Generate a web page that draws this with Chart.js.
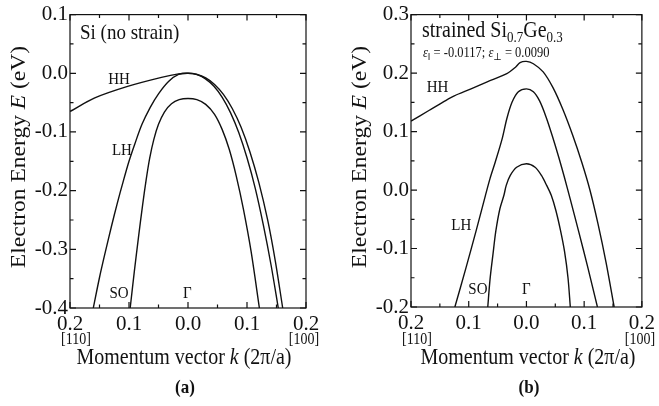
<!DOCTYPE html>
<html>
<head>
<meta charset="utf-8">
<script src="https://cdn.jsdelivr.net/npm/chart.js@4"></script>
<style>
html, body { margin: 0; padding: 0; background: #fff; }
#wrap { position: relative; width: 659px; height: 406px; }
canvas { position: absolute; top: 0; }
</style>
</head>
<body>
<div id="wrap">
<canvas id="chartA" width="330" height="406" style="left:0"></canvas>
<canvas id="chartB" width="329" height="406" style="left:330px"></canvas>
</div>
<script>
// k in units of 2pi/a : negative side = [110], positive side = [100]
// (a) Si, no strain
var hhA_k = [-0.200, -0.158, -0.101, -0.045, -0.016, 0.000, 0.015, 0.030, 0.045, 0.060, 0.075, 0.090, 0.105, 0.120, 0.135, 0.148, 0.1605];
var hhA_E = [-0.065, -0.042, -0.022, -0.007, -0.001, 0.000, -0.002, -0.008, -0.019, -0.036, -0.060, -0.092, -0.134, -0.186, -0.250, -0.320, -0.400];
var lhA_k = [-0.1605, -0.150, -0.140, -0.130, -0.120, -0.110, -0.100, -0.090, -0.078, -0.064, -0.050, -0.033, -0.016, 0.000, 0.015, 0.029, 0.044, 0.058, 0.072, 0.086, 0.100, 0.114, 0.128, 0.141, 0.153];
var lhA_E = [-0.400, -0.348, -0.304, -0.262, -0.222, -0.185, -0.150, -0.120, -0.087, -0.058, -0.035, -0.014, -0.002, 0.000, -0.002, -0.009, -0.022, -0.041, -0.067, -0.101, -0.144, -0.196, -0.260, -0.328, -0.400];
var soA_k = [-0.098, -0.091, -0.084, -0.077, -0.071, -0.065, -0.058, -0.050, -0.040, -0.028, -0.015, 0.000, 0.015, 0.030, 0.045, 0.058, 0.070, 0.082, 0.094, 0.107, 0.121];
var soA_E = [-0.400, -0.338, -0.280, -0.225, -0.182, -0.145, -0.113, -0.087, -0.066, -0.052, -0.045, -0.043, -0.045, -0.053, -0.070, -0.096, -0.130, -0.176, -0.232, -0.304, -0.400];

// (b) strained Si0.7Ge0.3
var hhB_k = [-0.200, -0.169, -0.140, -0.125, -0.096, -0.068, -0.034, -0.019, -0.011, 0.000, 0.012, 0.029, 0.046, 0.063, 0.080, 0.096, 0.110, 0.124, 0.138, 0.152];
var hhB_E = [0.118, 0.136, 0.153, 0.161, 0.173, 0.185, 0.199, 0.210, 0.218, 0.220, 0.216, 0.202, 0.175, 0.138, 0.094, 0.047, 0.000, -0.058, -0.124, -0.200];
var lhB_k = [-0.124, -0.105, -0.087, -0.071, -0.063, -0.054, -0.042, -0.034, -0.025, -0.014, 0.000, 0.012, 0.023, 0.034, 0.045, 0.056, 0.066, 0.076, 0.090, 0.106, 0.123];
var lhB_E = [-0.200, -0.134, -0.069, -0.009, 0.020, 0.048, 0.088, 0.122, 0.150, 0.168, 0.173, 0.168, 0.152, 0.125, 0.092, 0.056, 0.021, -0.016, -0.069, -0.131, -0.200];
var soB_k = [-0.067, -0.063, -0.058, -0.053, -0.046, -0.039, -0.035, -0.028, -0.017, 0.000, 0.015, 0.026, 0.035, 0.043, 0.051, 0.059, 0.066, 0.072, 0.076];
var soB_E = [-0.200, -0.152, -0.110, -0.070, -0.032, -0.009, 0.008, 0.025, 0.039, 0.045, 0.039, 0.025, 0.008, -0.009, -0.035, -0.069, -0.105, -0.150, -0.200];

var kTicks = [-0.2, -0.1, 0.0, 0.1, 0.2];
var eRangeA = [-0.4, 0.1];
var eRangeB = [-0.2, 0.3];

var INK = "#111";
var SERIF = "'Liberation Serif', 'DejaVu Serif', serif";
var STRETCH = 1.12; // the scan is a little taller than wide

function pts(k, e) {
	return k.map(function (v, i) { return { x: v, y: e[i] }; });
}

function band(k, e) {
	return {
		data: pts(k, e),
		borderColor: INK,
		borderWidth: 1.4,
		pointRadius: 0,
		fill: false,
		tension: 0.3
	};
}

// draw a run of text pieces with different fonts, centred on (cx, cy)
function rich(ctx, parts, cx, cy, rot, align) {
	ctx.save();
	ctx.translate(cx, cy);
	if (rot) { ctx.rotate(rot); ctx.scale(STRETCH, 1); }
	else ctx.scale(1, STRETCH);
	ctx.fillStyle = INK;
	ctx.textBaseline = "middle";
	ctx.textAlign = "left";
	var w = 0;
	parts.forEach(function (p) { ctx.font = p[1]; w += ctx.measureText(p[0]).width; });
	var x = align === "left" ? 0 : -w / 2;
	parts.forEach(function (p) {
		ctx.font = p[1];
		ctx.fillText(p[0], x, p[2] || 0);
		x += ctx.measureText(p[0]).width;
	});
	ctx.restore();
}

// frame plus inward major/minor ticks on all four sides
var frameTicks = {
	id: "frameTicks",
	afterDraw: function (chart) {
		var ctx = chart.ctx, a = chart.chartArea, x = chart.scales.x, y = chart.scales.y;
		ctx.save();
		ctx.strokeStyle = INK;
		ctx.lineWidth = 1.2;
		ctx.strokeRect(a.left, a.top, a.right - a.left, a.bottom - a.top);
		ctx.beginPath();
		var i, p, L;
		for (i = 0; i <= 8; i++) {
			p = x.getPixelForValue(x.min + i * 0.05);
			L = i % 2 === 0 ? 6 : 3.5;
			ctx.moveTo(p, a.bottom); ctx.lineTo(p, a.bottom - L);
			ctx.moveTo(p, a.top); ctx.lineTo(p, a.top + L);
		}
		for (i = 0; i <= 10; i++) {
			p = y.getPixelForValue(y.min + i * 0.05);
			L = i % 2 === 0 ? 6 : 3.5;
			ctx.moveTo(a.left, p); ctx.lineTo(a.left + L, p);
			ctx.moveTo(a.right, p); ctx.lineTo(a.right - L, p);
		}
		ctx.stroke();
		ctx.restore();
	}
};

function axisTexts(chart, cxPlot, titleX, panel) {
	var ctx = chart.ctx, a = chart.chartArea;
	var f = "20px " + SERIF, fi = "italic 20px " + SERIF;
	rich(ctx, [["Electron Energy ", "21px " + SERIF], ["E", "italic 21px " + SERIF], [" (eV)", "21px " + SERIF]],
		titleX, 157, -Math.PI / 2);
	rich(ctx, [["Momentum vector ", f], ["k", fi], [" (2\u03c0/a)", f]], cxPlot, 358, 0);
	rich(ctx, [["[110]", "14px " + SERIF]], a.left + 6, 340, 0);
	rich(ctx, [["[100]", "14px " + SERIF]], a.right - 2, 340, 0);
	rich(ctx, [[panel, "bold 17px " + SERIF]], cxPlot + 1, 388, 0);
}

function bandLabel(chart, txt, k, e) {
	var x = chart.scales.x.getPixelForValue(k), y = chart.scales.y.getPixelForValue(e);
	rich(chart.ctx, [[txt, "15px " + SERIF]], x, y, 0);
}

var notesA = {
	id: "notesA",
	afterDraw: function (chart) {
		axisTexts(chart, 184, 19, "(a)");
		rich(chart.ctx, [["Si (no strain)", "19px " + SERIF]], 80, 33, 0, "left");
		bandLabel(chart, "HH", -0.117, -0.011);
		bandLabel(chart, "LH", -0.112, -0.132);
		bandLabel(chart, "SO", -0.117, -0.376);
		bandLabel(chart, "\u0393", -0.001, -0.375);
	}
};

var notesB = {
	id: "notesB",
	afterDraw: function (chart) {
		axisTexts(chart, 198, 30, "(b)");
		var big = "20px " + SERIF, sub = "13px " + SERIF;
		rich(chart.ctx, [["strained Si", big], ["0.7", sub, 6], ["Ge", big], ["0.3", sub, 6]], 92, 31, 0, "left");
		var s = "12.5px " + SERIF, si = "italic 12.5px " + SERIF, ss = "9px " + SERIF;
		rich(chart.ctx, [["\u03b5", si], ["\u2016", ss, 4], [" = -0.0117; ", s], ["\u03b5", si], ["\u22a5", ss, 4], [" = 0.0090", s]], 93, 53, 0, "left");
		bandLabel(chart, "HH", -0.154, 0.176);
		bandLabel(chart, "LH", -0.113, -0.060);
		bandLabel(chart, "SO", -0.084, -0.171);
		bandLabel(chart, "\u0393", 0.000, -0.171);
	}
};

function makeChart(id, sets, yr, pad, yw, xh, notes) {
	var ctx = document.getElementById(id).getContext("2d");
	return new Chart(ctx, {
		type: "line",
		data: { datasets: sets },
		options: {
			responsive: false,
			animation: false,
			devicePixelRatio: 1,
			layout: { padding: pad },
			plugins: { legend: { display: false }, tooltip: { enabled: false } },
			scales: {
				x: {
					type: "linear",
					min: kTicks[0],
					max: kTicks[kTicks.length - 1],
					afterBuildTicks: function (s) { s.ticks = kTicks.map(function (v) { return { value: v }; }); },
					afterFit: function (s) { s.height = xh; },
					grid: { display: false, drawTicks: false },
					border: { display: false },
					ticks: {
						padding: 4,
						autoSkip: false,
						maxRotation: 0,
						color: INK,
						font: { family: SERIF, size: 21 },
						callback: function (v) { return Math.abs(v).toFixed(1); }
					}
				},
				y: {
					min: yr[0],
					max: yr[1],
					afterFit: function (s) { s.width = yw; },
					grid: { display: false, drawTicks: false },
					border: { display: false },
					ticks: {
						stepSize: 0.1,
						padding: 2,
						color: INK,
						font: { family: SERIF, size: 21 },
						callback: function (v) { return Math.abs(v) < 1e-9 ? "0.0" : v.toFixed(1); }
					}
				}
			}
		},
		plugins: [frameTicks, notes]
	});
}

makeChart("chartA",
	[band(hhA_k, hhA_E), band(lhA_k, lhA_E), band(soA_k, soA_E)],
	eRangeA, { left: 0, right: 24, top: 14, bottom: 0 }, 70, 98, notesA);

makeChart("chartB",
	[band(hhB_k, hhB_E), band(lhB_k, lhB_E), band(soB_k, soB_E)],
	eRangeB, { left: 0, right: 14, top: 14, bottom: 0 }, 81, 99, notesB);
</script>
</body>
</html>
